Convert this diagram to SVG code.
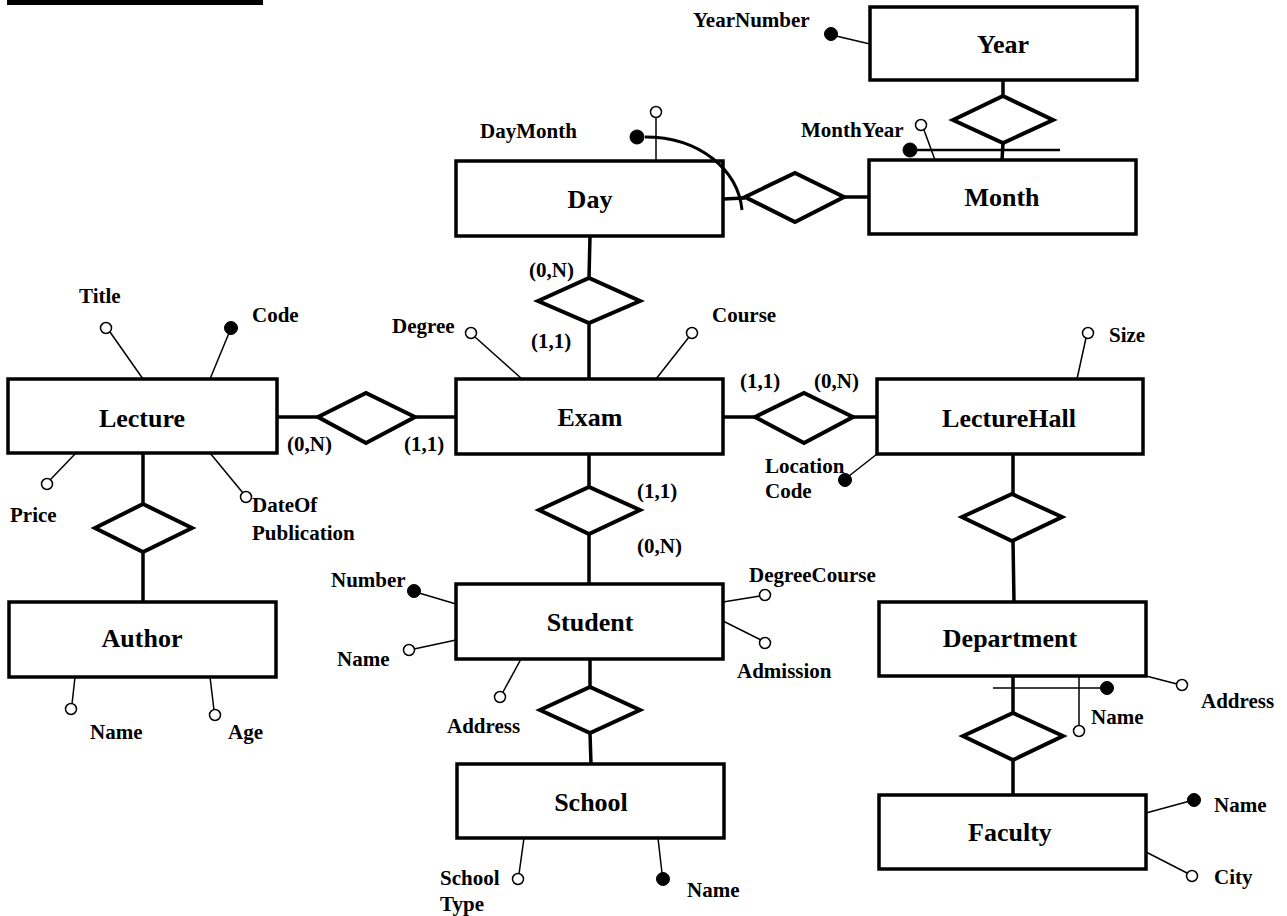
<svg xmlns="http://www.w3.org/2000/svg" width="1287" height="916" viewBox="0 0 1287 916">
  <defs>
    <style>
      .ent { fill: #fff; stroke: #000; stroke-width: 3.5; }
      .rel { fill: #fff; stroke: #000; stroke-width: 4; stroke-linejoin: miter; }
      .link { stroke: #000; stroke-width: 3.5; fill: none; }
      .att { stroke: #000; stroke-width: 1.5; fill: none; }
      .key { fill: #000; stroke: #000; stroke-width: 1; }
      .opt { fill: #fff; stroke: #000; stroke-width: 1.5; }
      .en { font-family: "Liberation Serif", "Times New Roman", serif; font-weight: bold; font-size: 26px; text-anchor: middle; fill: #000; }
      .lb { font-family: "Liberation Serif", "Times New Roman", serif; font-weight: bold; font-size: 21px; fill: #000; }
    </style>
  </defs>

  <rect width="1287" height="916" fill="#fff"/>
  <!-- header rule -->
  <rect x="7" y="0" width="256" height="5" fill="#000"/>

  <!-- relationship connectors -->
  <g id="connectors">
    <line class="link" x1="1003" y1="80" x2="1003" y2="96"/>
    <line class="link" x1="1003" y1="143" x2="1002" y2="160"/>
    <line class="link" x1="723" y1="199" x2="745" y2="198"/>
    <line class="link" x1="844" y1="197" x2="869" y2="197"/>
    <line class="link" x1="590" y1="236" x2="589" y2="278"/>
    <line class="link" x1="589" y1="323" x2="589" y2="379"/>
    <line class="link" x1="277" y1="417" x2="318" y2="417"/>
    <line class="link" x1="415" y1="417" x2="456" y2="417"/>
    <line class="link" x1="723" y1="417" x2="755" y2="417"/>
    <line class="link" x1="853" y1="417" x2="877" y2="417"/>
    <line class="link" x1="589" y1="454" x2="589" y2="487"/>
    <line class="link" x1="589" y1="534" x2="589" y2="584"/>
    <line class="link" x1="143" y1="453" x2="143" y2="504"/>
    <line class="link" x1="143" y1="552" x2="143" y2="602"/>
    <line class="link" x1="1013" y1="454" x2="1013" y2="494"/>
    <line class="link" x1="1013" y1="541" x2="1014" y2="602"/>
    <line class="link" x1="590" y1="659" x2="590" y2="687"/>
    <line class="link" x1="590" y1="733" x2="591" y2="764"/>
    <line class="link" x1="1013" y1="676" x2="1013" y2="713"/>
    <line class="link" x1="1013" y1="760" x2="1013" y2="795"/>
  </g>

  <!-- relationships -->
  <g id="rel-year-month"><polygon class="rel" points="953,120 1003,96 1053,120 1003,143"/></g>
  <g id="rel-day-month"><polygon class="rel" points="745,197 795,173 844,197 795,222"/></g>
  <g id="rel-day-exam"><polygon class="rel" points="538,301 589,278 640,301 589,323"/></g>
  <g id="rel-lecture-exam"><polygon class="rel" points="318,417 366,393 415,417 366,443"/></g>
  <g id="rel-exam-hall"><polygon class="rel" points="755,417 804,393 853,417 804,443"/></g>
  <g id="rel-exam-student"><polygon class="rel" points="539,510 589,487 640,510 589,534"/></g>
  <g id="rel-lecture-author"><polygon class="rel" points="95,528 143,504 192,528 143,552"/></g>
  <g id="rel-hall-department"><polygon class="rel" points="962,517 1012,494 1062,517 1012,541"/></g>
  <g id="rel-student-school"><polygon class="rel" points="540,710 590,687 640,710 590,733"/></g>
  <g id="rel-department-faculty"><polygon class="rel" points="963,736 1013,713 1063,736 1013,760"/></g>

  <!-- Year -->
  <g id="year">
    <rect class="ent" x="870" y="7" width="267" height="73"/>
    <text class="en" x="1003" y="53">Year</text>
    <line class="att" x1="836" y1="36" x2="870" y2="44"/>
    <circle class="key" cx="831" cy="34" r="6.5"/>
    <text class="lb" x="693" y="27">YearNumber</text>
  </g>

  <!-- Month -->
  <g id="month">
    <rect class="ent" x="869" y="160" width="267" height="74"/>
    <text class="en" x="1002" y="206">Month</text>
    <line class="att" x1="924" y1="130" x2="935" y2="160"/>
    <circle class="opt" cx="921" cy="125" r="5.5"/>
    <line x1="910" y1="150" x2="1060" y2="150" stroke="#000" stroke-width="2.5"/>
    <circle class="key" cx="910" cy="150" r="7"/>
    <text class="lb" x="801" y="137">MonthYear</text>
  </g>

  <!-- Day -->
  <g id="day">
    <rect class="ent" x="456" y="161" width="267" height="75"/>
    <text class="en" x="590" y="208">Day</text>
    <line class="att" x1="656" y1="117" x2="656" y2="161"/>
    <circle class="opt" cx="656" cy="112" r="5.5"/>
    <path d="M 645 137 C 700 137, 738 170, 742 210" fill="none" stroke="#000" stroke-width="3"/>
    <circle class="key" cx="637" cy="137" r="7"/>
    <text class="lb" x="480" y="138">DayMonth</text>
  </g>

  <!-- Lecture -->
  <g id="lecture">
    <rect class="ent" x="8" y="379" width="269" height="74"/>
    <text class="en" x="142" y="427">Lecture</text>
    <line class="att" x1="110" y1="332" x2="143" y2="379"/>
    <circle class="opt" cx="106" cy="328" r="5.5"/>
    <text class="lb" x="79" y="303">Title</text>
    <line class="att" x1="229" y1="333" x2="210" y2="379"/>
    <circle class="key" cx="231" cy="328" r="6.5"/>
    <text class="lb" x="252" y="322">Code</text>
    <line class="att" x1="50" y1="480" x2="76" y2="453"/>
    <circle class="opt" cx="47" cy="484" r="5.5"/>
    <text class="lb" x="10" y="522">Price</text>
    <line class="att" x1="243" y1="493" x2="210" y2="453"/>
    <circle class="opt" cx="246" cy="497" r="5.5"/>
    <text class="lb" x="252" y="512">DateOf</text>
    <text class="lb" x="252" y="540">Publication</text>
  </g>

  <!-- Exam -->
  <g id="exam">
    <rect class="ent" x="456" y="379" width="267" height="75"/>
    <text class="en" x="590" y="426">Exam</text>
    <line class="att" x1="475" y1="337" x2="522" y2="379"/>
    <circle class="opt" cx="471" cy="333" r="5.5"/>
    <text class="lb" x="392" y="333">Degree</text>
    <line class="att" x1="689" y1="337" x2="656" y2="379"/>
    <circle class="opt" cx="692" cy="333" r="5.5"/>
    <text class="lb" x="712" y="322">Course</text>
  </g>

  <!-- LectureHall -->
  <g id="lecturehall">
    <rect class="ent" x="877" y="379" width="266" height="75"/>
    <text class="en" x="1009" y="427">LectureHall</text>
    <line class="att" x1="1086" y1="338" x2="1077" y2="379"/>
    <circle class="opt" cx="1088" cy="333" r="5.5"/>
    <text class="lb" x="1109" y="342">Size</text>
    <line class="att" x1="849" y1="476" x2="877" y2="454"/>
    <circle class="key" cx="845" cy="480" r="6.5"/>
    <text class="lb" x="765" y="473">Location</text>
    <text class="lb" x="765" y="498">Code</text>
  </g>

  <!-- Author -->
  <g id="author">
    <rect class="ent" x="9" y="602" width="267" height="75"/>
    <text class="en" x="142" y="647">Author</text>
    <line class="att" x1="75" y1="677" x2="72" y2="704"/>
    <circle class="opt" cx="71" cy="709" r="5.5"/>
    <text class="lb" x="90" y="739">Name</text>
    <line class="att" x1="210" y1="677" x2="214" y2="710"/>
    <circle class="opt" cx="215" cy="715" r="5.5"/>
    <text class="lb" x="228" y="739">Age</text>
  </g>

  <!-- Student -->
  <g id="student">
    <rect class="ent" x="456" y="584" width="267" height="75"/>
    <text class="en" x="590" y="631">Student</text>
    <line class="att" x1="419" y1="593" x2="456" y2="604"/>
    <circle class="key" cx="414" cy="591" r="6.5"/>
    <text class="lb" x="331" y="587">Number</text>
    <line class="att" x1="414" y1="649" x2="456" y2="640"/>
    <circle class="opt" cx="409" cy="650" r="5.5"/>
    <text class="lb" x="337" y="666">Name</text>
    <line class="att" x1="503" y1="692" x2="521" y2="659"/>
    <circle class="opt" cx="500" cy="697" r="5.5"/>
    <text class="lb" x="447" y="733">Address</text>
    <line class="att" x1="723" y1="602" x2="760" y2="596"/>
    <circle class="opt" cx="765" cy="595" r="5.5"/>
    <text class="lb" x="749" y="582">DegreeCourse</text>
    <line class="att" x1="723" y1="621" x2="761" y2="640"/>
    <circle class="opt" cx="765" cy="643" r="5.5"/>
    <text class="lb" x="737" y="678">Admission</text>
  </g>

  <!-- School -->
  <g id="school">
    <rect class="ent" x="457" y="764" width="267" height="74"/>
    <text class="en" x="591" y="811">School</text>
    <line class="att" x1="519" y1="874" x2="524" y2="838"/>
    <circle class="opt" cx="518" cy="879" r="5.5"/>
    <text class="lb" x="440" y="885">School</text>
    <text class="lb" x="440" y="911">Type</text>
    <line class="att" x1="662" y1="873" x2="658" y2="838"/>
    <circle class="key" cx="663" cy="879" r="6.5"/>
    <text class="lb" x="687" y="897">Name</text>
  </g>

  <!-- Department -->
  <g id="department">
    <rect class="ent" x="879" y="602" width="267" height="74"/>
    <text class="en" x="1010" y="647">Department</text>
    <line class="att" x1="993" y1="688" x2="1107" y2="688"/>
    <circle class="key" cx="1107" cy="688" r="6.5"/>
    <line class="att" x1="1079" y1="676" x2="1079" y2="726"/>
    <circle class="opt" cx="1079" cy="731" r="5.5"/>
    <text class="lb" x="1091" y="724">Name</text>
    <line class="att" x1="1146" y1="676" x2="1177" y2="684"/>
    <circle class="opt" cx="1182" cy="685" r="5.5"/>
    <text class="lb" x="1201" y="708">Address</text>
  </g>

  <!-- Faculty -->
  <g id="faculty">
    <rect class="ent" x="879" y="795" width="267" height="74"/>
    <text class="en" x="1010" y="841">Faculty</text>
    <line class="att" x1="1146" y1="813" x2="1190" y2="801"/>
    <circle class="key" cx="1194" cy="800" r="6.5"/>
    <text class="lb" x="1214" y="812">Name</text>
    <line class="att" x1="1146" y1="852" x2="1187" y2="873"/>
    <circle class="opt" cx="1192" cy="876" r="5.5"/>
    <text class="lb" x="1214" y="884">City</text>
  </g>

  <!-- cardinalities -->
  <g id="cardinalities">
    <text class="lb" x="529" y="277">(0,N)</text>
    <text class="lb" x="531" y="348">(1,1)</text>
    <text class="lb" x="287" y="451">(0,N)</text>
    <text class="lb" x="404" y="451">(1,1)</text>
    <text class="lb" x="740" y="388">(1,1)</text>
    <text class="lb" x="814" y="388">(0,N)</text>
    <text class="lb" x="637" y="498">(1,1)</text>
    <text class="lb" x="637" y="553">(0,N)</text>
  </g>
</svg>
